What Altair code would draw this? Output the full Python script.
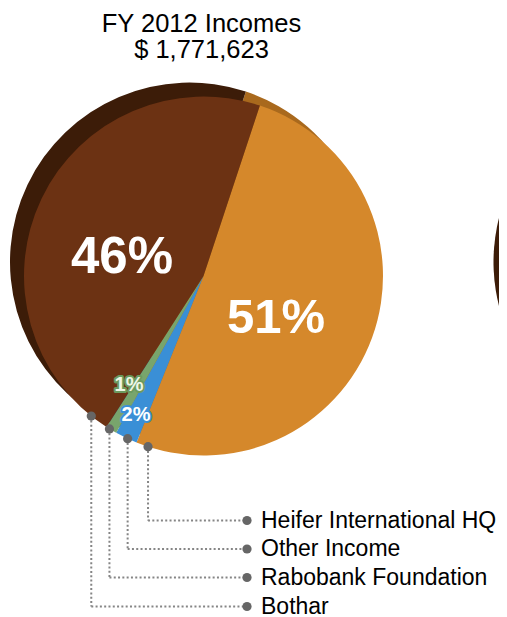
import math
import altair as alt
import pandas as pd

# ---------------- data ----------------
categories = ["Heifer International HQ", "Other Income", "Rabobank Foundation", "Bothar"]
shares = [51, 2, 1, 46]
title_lines = ["FY 2012 Incomes", "$ 1,771,623"]

# neighbouring (cut-off) pie at the right edge: visible parts only, degrees
next_parts = ["dark", "light"]
next_start_deg = [180, 288]
next_end_deg = [288, 380]

# ---------------- styles / layout ----------------
front_colors = ["#d5882b", "#3a8fd6", "#78a56c", "#6c3213"]
shadow_colors = ["#a9691d", "#2b6ca3", "#55784c", "#3c1c08"]
next_colors = ["#3c1c08", "#a9691d"]

W, H = 491, 609
M = 8  # page margin
R = 179.5
FX, FY = 203.5 - M, 276 - M        # front pie centre
SX, SY = 189.5 - M, 262 - M        # shadow pie centre
NX, NY = 673 - M, 262 - M          # neighbouring pie centre
START = math.radians(18.3)

anchor_deg = [198, 205, 211.6, 218.7]
legend_row_y = [520.5 - M, 549 - M, 577.5 - M, 606.5 - M]
legend_dot_x = 247 - M
legend_text_x = 261 - M

pct_x = [276 - M, 136 - M, 129 - M, 122 - M]
pct_y = [333 - M, 421 - M, 391 - M, 273 - M]
pct_size = [49, 20, 20, 51]
pct_outline = ["#d5882b", "#3a8fd6", "#6b9a5e", "#6c3213"]
pct_fill = ["#ffffff", "#ffffff", "#eef6e6", "#ffffff"]

FONT = "Liberation Sans"

# ---------------- tables ----------------
df = pd.DataFrame({"category": categories, "share": shares, "idx": range(len(categories))})

theta_enc = alt.Theta("share:Q", stack=True,
                      scale=alt.Scale(range=[START, START + 2 * math.pi]))

shadow = alt.Chart(df).mark_arc(radius=R).encode(
    x=alt.value(SX), y=alt.value(SY),
    theta=theta_enc,
    color=alt.Color("category:N", scale=alt.Scale(domain=categories, range=shadow_colors), legend=None),
    order=alt.Order("idx:Q"),
)

front = alt.Chart(df).mark_arc(radius=R).encode(
    x=alt.value(FX), y=alt.value(FY),
    theta=theta_enc,
    color=alt.Color("category:N", scale=alt.Scale(domain=categories, range=front_colors), legend=None),
    order=alt.Order("idx:Q"),
)

next_df = pd.DataFrame({
    "part": next_parts,
    "t0": [math.radians(v) for v in next_start_deg],
    "t1": [math.radians(v) for v in next_end_deg],
})
next_pie = alt.Chart(next_df).mark_arc(radius=R).encode(
    x=alt.value(NX), y=alt.value(NY),
    theta=alt.Theta("t0:Q", scale=None), theta2="t1:Q",
    color=alt.Color("part:N", scale=alt.Scale(domain=next_parts, range=next_colors), legend=None),
)

# leader lines from the pie edge to the labels
ax = [FX + R * math.sin(math.radians(a)) for a in anchor_deg]
ay = [FY - R * math.cos(math.radians(a)) for a in anchor_deg]
seg_rows = []
for i in range(len(categories)):
    seg_rows.append({"x": ax[i], "y": ay[i], "x2": ax[i], "y2": legend_row_y[i]})
    seg_rows.append({"x": ax[i], "y": legend_row_y[i], "x2": legend_dot_x, "y2": legend_row_y[i]})
seg_df = pd.DataFrame(seg_rows)
leaders = alt.Chart(seg_df).mark_rule(strokeDash=[2, 2.3], strokeWidth=2, color="#858585").encode(
    x=alt.X("x:Q", scale=None, axis=None), y=alt.Y("y:Q", scale=None, axis=None),
    x2="x2:Q", y2="y2:Q",
)

dot_df = pd.DataFrame({
    "x": ax + [legend_dot_x] * len(categories),
    "y": ay + legend_row_y,
})
dots = alt.Chart(dot_df).mark_circle(size=85, color="#666666", opacity=1).encode(
    x=alt.X("x:Q", scale=None, axis=None), y=alt.Y("y:Q", scale=None, axis=None),
)

leg_df = pd.DataFrame({"category": categories, "y": legend_row_y})
leg_text = alt.Chart(leg_df).mark_text(
    align="left", baseline="middle", fontSize=23, font=FONT, color="#000000"
).encode(
    x=alt.value(legend_text_x), y=alt.Y("y:Q", scale=None, axis=None), text="category:N",
)

# percentage labels
pct_df = df.assign(px=pct_x, py=pct_y, fs=pct_size, oc=pct_outline, fc=pct_fill)
pct_base = alt.Chart(pct_df).transform_calculate(label="datum.share + '%'")
pct_outline_layer = pct_base.mark_text(
    align="center", baseline="alphabetic", font=FONT, fontWeight="bold",
    strokeWidth=4, strokeJoin="round",
).encode(
    x=alt.X("px:Q", scale=None, axis=None), y=alt.Y("py:Q", scale=None, axis=None),
    size=alt.Size("fs:Q", scale=None, legend=None),
    stroke=alt.Stroke("oc:N", scale=None, legend=None),
    fill=alt.Fill("oc:N", scale=None, legend=None),
    text="label:N",
)
pct_text_layer = pct_base.mark_text(
    align="center", baseline="alphabetic", font=FONT, fontWeight="bold",
).encode(
    x=alt.X("px:Q", scale=None, axis=None), y=alt.Y("py:Q", scale=None, axis=None),
    size=alt.Size("fs:Q", scale=None, legend=None),
    fill=alt.Fill("fc:N", scale=None, legend=None),
    text="label:N",
)

# title
title_df = pd.DataFrame({"line": title_lines, "y": [31.7 - M, 58.3 - M]})
title = alt.Chart(title_df).mark_text(
    align="center", baseline="alphabetic", fontSize=25.5, font=FONT, color="#000000"
).encode(
    x=alt.value(201.5 - M), y=alt.Y("y:Q", scale=None, axis=None), text="line:N",
)

chart = alt.layer(
    next_pie, shadow, front, pct_outline_layer, pct_text_layer, leaders, dots, leg_text, title
).resolve_scale(
    color="independent", theta="independent"
).properties(
    width=W, height=H, padding=0, autosize=alt.AutoSizeParams(type="none"),
    background="#ffffff",
).configure_view(strokeWidth=0)

chart.save("out.html", embed_options={"renderer": "svg", "actions": False})
